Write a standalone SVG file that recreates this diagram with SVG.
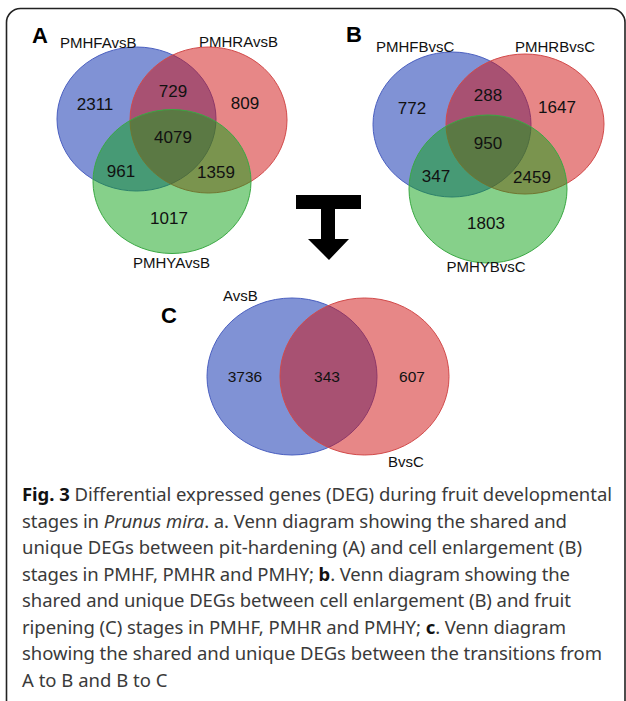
<svg xmlns="http://www.w3.org/2000/svg" width="626" height="701" viewBox="0 0 626 701">
<style>
.bl{fill:#0125ab;fill-opacity:0.5;stroke:#4a5fc0;stroke-width:1}
.rd{fill:#cf0f0f;fill-opacity:0.5;stroke:#d24a4a;stroke-width:1}
.gr{fill:#0da115;fill-opacity:0.5;stroke:#3aa843;stroke-width:1}
.lab{font-family:"Liberation Sans",Arial,sans-serif;font-size:15px;fill:#111}
.num{font-family:"Liberation Sans",Arial,sans-serif;font-size:17px;fill:#111;text-anchor:middle}
.numc{font-family:"Liberation Sans",Arial,sans-serif;font-size:15.5px;fill:#111;text-anchor:middle}
.pl{font-family:"Liberation Sans",Arial,sans-serif;font-weight:bold;font-size:22px;fill:#000}
.cap{font-family:"Noto Sans","Open Sans",sans-serif;font-size:18.5px;fill:#3a3a3a}
.b{font-weight:bold;fill:#111}
.i{font-style:italic}
</style>
<rect x="6.5" y="8.5" width="618.5" height="720" rx="14" ry="14" fill="none" stroke="#222" stroke-width="1.6"/>

<g id="vennA">
<ellipse class="bl" cx="136.5" cy="119" rx="79.5" ry="72"/>
<ellipse class="rd" cx="208.5" cy="120" rx="78.5" ry="73"/>
<ellipse class="gr" cx="172" cy="181.5" rx="79" ry="72"/>
<text class="pl" x="32" y="43">A</text>
<text class="lab" x="60" y="48">PMHFAvsB</text>
<text class="lab" x="199" y="47">PMHRAvsB</text>
<text class="lab" x="133" y="268">PMHYAvsB</text>
<text class="num" x="95" y="110">2311</text>
<text class="num" x="173" y="97">729</text>
<text class="num" x="245" y="109">809</text>
<text class="num" x="173" y="143">4079</text>
<text class="num" x="121" y="177">961</text>
<text class="num" x="216" y="178">1359</text>
<text class="num" x="169" y="224">1017</text>
</g>

<g id="vennB">
<ellipse class="bl" cx="452" cy="124.5" rx="79" ry="72.5"/>
<ellipse class="rd" cx="525" cy="124" rx="79" ry="70"/>
<ellipse class="gr" cx="488" cy="189" rx="79" ry="74"/>
<text class="pl" x="346" y="42">B</text>
<text class="lab" x="376" y="52">PMHFBvsC</text>
<text class="lab" x="515" y="52">PMHRBvsC</text>
<text class="lab" x="486" y="272" text-anchor="middle">PMHYBvsC</text>
<text class="num" x="412" y="114">772</text>
<text class="num" x="488" y="101">288</text>
<text class="num" x="557" y="113">1647</text>
<text class="num" x="488" y="149">950</text>
<text class="num" x="436" y="182">347</text>
<text class="num" x="532" y="183">2459</text>
<text class="num" x="486" y="229">1803</text>
</g>

<g id="vennC">
<ellipse class="bl" cx="292" cy="376.5" rx="85" ry="78.5"/>
<ellipse class="rd" cx="364.5" cy="376.5" rx="84.5" ry="78.5"/>
<text class="pl" x="161" y="323" font-size="23">C</text>
<text class="lab" x="223" y="301">AvsB</text>
<text class="lab" x="388" y="467">BvsC</text>
<text class="numc" x="245" y="382">3736</text>
<text class="numc" x="327" y="382">343</text>
<text class="numc" x="412" y="382">607</text>
</g>

<g id="connectors">
<path d="M296,195 H361 V209 H335 V239 H349 L329,260 L308,239 H321 V209 H296 Z" fill="#000"/>
</g>

<g id="caption">
<text class="cap" x="22" y="501" textLength="590" lengthAdjust="spacing"><tspan class="b">Fig. 3</tspan> Differential expressed genes (DEG) during fruit developmental</text>
<text class="cap" x="22" y="527.5" textLength="545" lengthAdjust="spacing">stages in <tspan class="i">Prunus mira</tspan>. a. Venn diagram showing the shared and</text>
<text class="cap" x="22" y="554" textLength="560" lengthAdjust="spacing">unique DEGs between pit-hardening (A) and cell enlargement (B)</text>
<text class="cap" x="22" y="580.5" textLength="548" lengthAdjust="spacing">stages in PMHF, PMHR and PMHY; <tspan class="b">b</tspan>. Venn diagram showing the</text>
<text class="cap" x="22" y="607" textLength="549" lengthAdjust="spacing">shared and unique DEGs between cell enlargement (B) and fruit</text>
<text class="cap" x="22" y="633.5" textLength="544" lengthAdjust="spacing">ripening (C) stages in PMHF, PMHR and PMHY; <tspan class="b">c</tspan>. Venn diagram</text>
<text class="cap" x="22" y="660" textLength="580" lengthAdjust="spacing">showing the shared and unique DEGs between the transitions from</text>
<text class="cap" x="22" y="686.5">A to B and B to C</text>
</g>
</svg>
